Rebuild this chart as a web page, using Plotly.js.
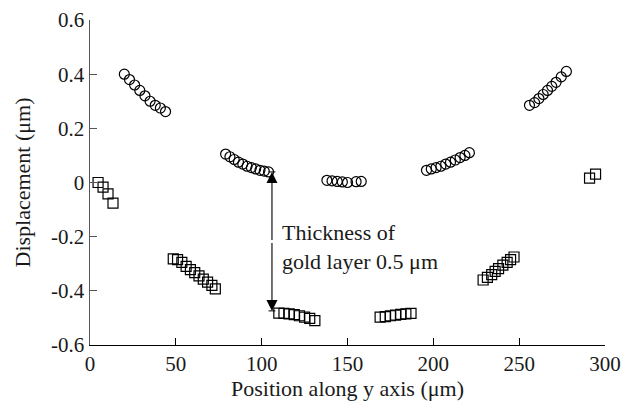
<!DOCTYPE html>
<html>
<head>
<meta charset="utf-8">
<script src="https://cdn.plot.ly/plotly-3.0.1.min.js"></script>
<style>html,body{margin:0;padding:0;background:#fff;}#chart{width:623px;height:403px;}</style>
</head>
<body>
<div id="chart"></div>
<script>
// Circles (top surface)
const circleX = [20, 23, 26, 29, 32, 35, 38, 41, 44,
                 79, 81.5, 84, 86.5, 89, 91.5, 94, 96.5, 99, 101.5, 104,
                 138, 141, 144, 147, 150, 155, 158,
                 196, 198.8, 201.6, 204.4, 207.2, 210, 212.8, 215.6, 218.4, 221,
                 256, 259, 261.5, 264, 266.5, 269, 271.5, 274.5, 277.5];
const circleY = [0.40, 0.38, 0.36, 0.34, 0.32, 0.30, 0.285, 0.275, 0.262,
                 0.105, 0.095, 0.085, 0.075, 0.068, 0.06, 0.055, 0.05, 0.045, 0.042, 0.039,
                 0.008, 0.006, 0.004, 0.002, 0.0, 0.003, 0.004,
                 0.045, 0.05, 0.055, 0.06, 0.068, 0.075, 0.083, 0.092, 0.1, 0.11,
                 0.285, 0.295, 0.31, 0.325, 0.34, 0.355, 0.37, 0.39, 0.41];
// Squares (bottom surface)
const squareX = [4.7, 7.6, 10.5, 13.4,
                 48.5, 51, 53.5, 56, 58.5, 61, 63.5, 66, 68.5, 71, 73,
                 110, 113, 116, 119, 122, 125, 128, 131,
                 169, 172, 175, 178, 181, 184, 187,
                 229, 231.5, 234, 236, 238, 240.5, 243, 245, 247,
                 291, 294.5];
const squareY = [0, -0.017, -0.042, -0.076,
                 -0.282, -0.285, -0.295, -0.31, -0.322, -0.333, -0.345, -0.357, -0.368, -0.38, -0.393,
                 -0.482, -0.483, -0.485, -0.488, -0.492, -0.497, -0.502, -0.51,
                 -0.497, -0.495, -0.492, -0.49, -0.487, -0.485, -0.483,
                 -0.36, -0.35, -0.34, -0.328, -0.318, -0.305, -0.295, -0.285, -0.275,
                 0.016, 0.031];
const xTickVals = [0, 50, 100, 150, 200, 250, 300];
const xTickText = ["0", "50", "100", "150", "200", "250", "300"];
const yTickVals = [-0.6, -0.4, -0.2, 0, 0.2, 0.4, 0.6];
const yTickText = ["-0.6", "-0.4", "-0.2", "0", "0.2", "0.4", "0.6"];
const arrowX = 106, arrowTop = 0.039, arrowBottom = -0.474;
const noteText = "Thickness of<br>gold layer 0.5 μm";

const FONT = "Liberation Serif, Times New Roman, serif";
const TXT = '#1a1a1a';

const traces = [
  {x: circleX, y: circleY, mode: 'markers', type: 'scatter',
   marker: {symbol: 'circle-open', size: 10, color: '#000', line: {width: 1.2, color: '#000'}}},
  {x: squareX, y: squareY, mode: 'markers', type: 'scatter',
   marker: {symbol: 'square-open', size: 10, color: '#000', line: {width: 1.2, color: '#000'}}}
];

const mid = (arrowTop + arrowBottom) / 2;
const layout = {
  width: 623, height: 403,
  margin: {l: 90, r: 18, t: 20, b: 58},
  paper_bgcolor: '#fff', plot_bgcolor: '#fff',
  showlegend: false,
  font: {family: FONT, size: 21, color: TXT},
  xaxis: {
    range: [0, 300], tickvals: xTickVals, ticktext: xTickText,
    ticks: 'inside', ticklen: 7, tickcolor: '#000', tickwidth: 1,
    showline: true, linecolor: '#000', linewidth: 1.2,
    showgrid: false, zeroline: false,
    tickfont: {family: FONT, size: 21, color: TXT},
    title: {text: 'Position along y axis (μm)', font: {family: FONT, size: 22, color: TXT}, standoff: 1}
  },
  yaxis: {
    range: [-0.6, 0.6], tickvals: yTickVals, ticktext: yTickText,
    ticks: 'inside', ticklen: 7, tickcolor: '#555', tickwidth: 1,
    showline: true, linecolor: '#555', linewidth: 1.5,
    showgrid: false, zeroline: false,
    tickfont: {family: FONT, size: 21, color: TXT},
    title: {text: 'Displacement (μm)', font: {family: FONT, size: 22, color: TXT}, standoff: 14}
  },
  shapes: [
    {type: 'line', xref: 'x', yref: 'y', x0: arrowX - 2, x1: arrowX + 2, y0: arrowTop, y1: arrowTop, line: {color: '#000', width: 1}},
    {type: 'line', xref: 'x', yref: 'y', x0: arrowX - 2, x1: arrowX + 2, y0: arrowBottom, y1: arrowBottom, line: {color: '#000', width: 1}}
  ],
  annotations: [
    {x: arrowX, y: arrowTop, ax: arrowX, ay: mid, axref: 'x', ayref: 'y', xref: 'x', yref: 'y',
     text: '', showarrow: true, arrowhead: 2, arrowsize: 2, arrowwidth: 1.1, arrowcolor: '#000'},
    {x: arrowX, y: arrowBottom, ax: arrowX, ay: mid, axref: 'x', ayref: 'y', xref: 'x', yref: 'y',
     text: '', showarrow: true, arrowhead: 2, arrowsize: 2, arrowwidth: 1.1, arrowcolor: '#000'},
    {x: 110.5, y: -0.238, xref: 'x', yref: 'y', xanchor: 'left', yanchor: 'middle', align: 'left',
     text: noteText, showarrow: false, font: {family: FONT, size: 22, color: TXT}}
  ]
};

Plotly.newPlot('chart', traces, layout, {staticPlot: true, displayModeBar: false});
</script>
</body>
</html>
